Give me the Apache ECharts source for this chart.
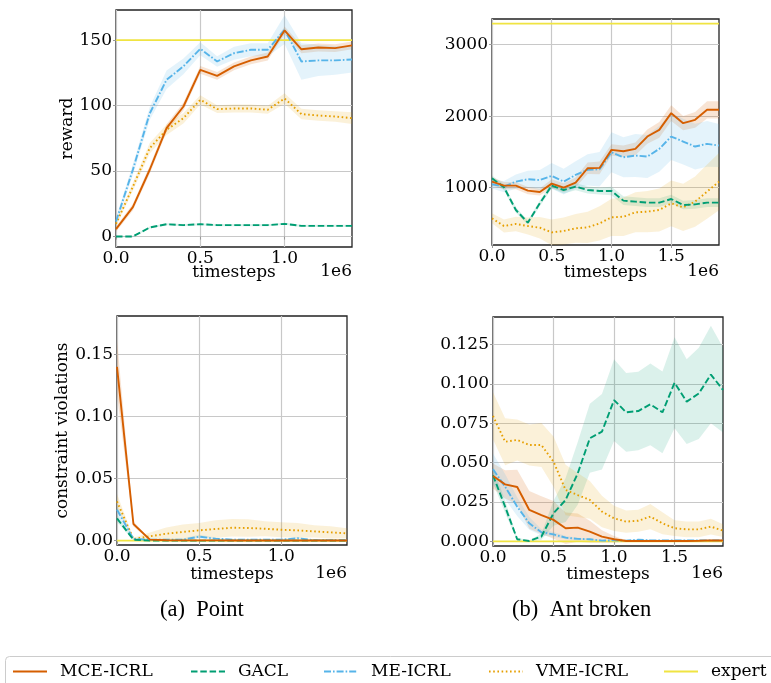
<!DOCTYPE html>
<html><head><meta charset="utf-8">
<script src="https://cdn.jsdelivr.net/npm/echarts@6/dist/echarts.min.js"></script>
<style>html,body{margin:0;padding:0;background:#fff}#c{width:771px;height:683px}</style>
</head><body><div id="c"></div>
<script>
// ---------- x positions (timesteps, 1e6) ----------
const xPoint = [0, 0.1, 0.2, 0.3, 0.4, 0.5, 0.6, 0.7, 0.8, 0.9, 1.0, 1.1, 1.2, 1.3, 1.4];
const xAnt = [0, 0.1, 0.2, 0.3, 0.4, 0.5, 0.6, 0.7, 0.8, 0.9, 1.0, 1.1, 1.2, 1.3, 1.4, 1.5, 1.6, 1.7, 1.8, 1.9];

// ---------- (a) Point : reward ----------
const pointRewardMCE = [5.6, 22.4, 51, 82.8, 99.3, 127.3, 122.7, 130, 134.5, 137.5, 157.4, 143, 144.4, 143.9, 146];
const pointRewardMCEErr = [2, 2.5, 3, 3, 3, 3, 3, 3, 3, 3, 3, 3, 3, 3, 3];
const pointRewardGACL = [0, 0, 6.9, 9.4, 8.7, 9.4, 8.7, 8.7, 8.7, 8.7, 9.7, 8.1, 8.1, 8.1, 8.1];
const pointRewardGACLErr = [0.5, 0.5, 0.8, 0.8, 0.8, 0.8, 0.8, 0.8, 0.8, 0.8, 0.8, 0.8, 0.8, 0.8, 0.8];
const pointRewardME = [11.5, 51, 94, 119.7, 130, 143.4, 133.7, 140, 142.6, 142.6, 158, 133.7, 134.5, 134.5, 135.2];
const pointRewardMEErr = [3, 4, 5, 7, 6, 5, 4, 5, 5, 5, 11, 14, 12, 11, 10];
const pointRewardVME = [9.7, 38, 67.5, 81.5, 90.4, 104.4, 97.3, 97.8, 97.8, 96.8, 105.4, 93.5, 92.4, 91.7, 90.4];
const pointRewardVMEErr = [2, 3, 4, 4, 4, 3.5, 3, 3, 3, 3, 4, 4, 4, 4, 4.5];
const pointRewardExpert = 150;

// ---------- (b) Ant broken : reward ----------
const antRewardMCE = [1084, 1028, 1028, 958, 939, 1056, 1000, 1070, 1271, 1276, 1528, 1509, 1542, 1715, 1808, 2042, 1902, 1949, 2089, 2089];
const antRewardMCEErr = [60, 50, 50, 50, 50, 60, 60, 70, 80, 90, 80, 80, 90, 100, 110, 110, 100, 110, 120, 120];
const antRewardGACL = [1131, 1005, 687, 509, 780, 1028, 967, 1014, 967, 953, 953, 818, 804, 790, 790, 841, 757, 766, 790, 790];
const antRewardGACLErr = [40, 40, 40, 30, 40, 40, 50, 50, 50, 50, 60, 60, 60, 60, 60, 60, 60, 60, 60, 60];
const antRewardME = [1047, 1014, 1084, 1117, 1107, 1164, 1084, 1178, 1248, 1257, 1495, 1425, 1449, 1435, 1542, 1715, 1645, 1575, 1612, 1589];
const antRewardMEErr = [60, 80, 100, 120, 140, 180, 180, 190, 220, 240, 280, 280, 300, 300, 320, 330, 320, 320, 320, 300];
const antRewardVME = [570, 463, 491, 463, 439, 374, 393, 430, 444, 500, 584, 593, 654, 664, 687, 780, 724, 804, 944, 1084];
const antRewardVMEErr = [70, 90, 100, 120, 150, 180, 190, 200, 220, 240, 260, 270, 280, 290, 300, 320, 330, 350, 380, 400];
const antRewardExpert = 3295;

// ---------- (a) Point : constraint violations ----------
const pointViolMCE = [0.140, 0.0134, 0.0008, 0.0003, 0.0002, 0.0002, 0.0002, 0.0001, 0.0001, 0.0001, 0.0001, 0.0001, 0.0001, 0.0001, 0.0001];
const pointViolMCEErr = [0.022, 0.002, 0.0005, 0.0002, 0.0002, 0.0002, 0.0002, 0.0002, 0.0002, 0.0002, 0.0002, 0.0002, 0.0002, 0.0002, 0.0002];
const pointViolGACL = [0.018, 0.0008, 0, 0, 0, 0, 0, 0, 0, 0, 0, 0, 0, 0, 0];
const pointViolGACLErr = [0.003, 0.0005, 0, 0, 0, 0, 0, 0, 0, 0, 0, 0, 0, 0, 0];
const pointViolME = [0.025, 0.0013, 0.0008, 0.0008, 0.0008, 0.0032, 0.0016, 0.0008, 0.0008, 0.0008, 0.0008, 0.0019, 0.0004, 0.0004, 0.0004];
const pointViolMEErr = [0.004, 0.001, 0.0008, 0.0008, 0.001, 0.0015, 0.001, 0.0008, 0.0008, 0.0008, 0.0008, 0.001, 0.0005, 0.0005, 0.0005];
const pointViolVME = [0.0316, 0.0013, 0.0035, 0.0056, 0.007, 0.0083, 0.0094, 0.0104, 0.0102, 0.0096, 0.0088, 0.0083, 0.0075, 0.0067, 0.0059];
const pointViolVMEErr = [0.006, 0.001, 0.003, 0.005, 0.006, 0.006, 0.007, 0.007, 0.007, 0.006, 0.006, 0.006, 0.005, 0.005, 0.004];
const pointViolExpert = 0;

// ---------- (b) Ant broken : constraint violations ----------
const antViolMCE = [0.0415, 0.0362, 0.0345, 0.0199, 0.0167, 0.0136, 0.0083, 0.0087, 0.0061, 0.003, 0.0013, 0.0002, 0.0002, 0.0002, 0.0002, 0.0002, 0.0002, 0.0003, 0.0006, 0.0005];
const antViolMCEErr = [0.008, 0.009, 0.011, 0.012, 0.012, 0.012, 0.01, 0.009, 0.007, 0.004, 0.002, 0.0005, 0.0005, 0.0005, 0.0005, 0.0005, 0.0005, 0.0005, 0.0005, 0.0005];
const antViolGACL = [0.042, 0.022, 0.0013, 0.0002, 0.003, 0.0178, 0.0263, 0.0432, 0.0655, 0.0697, 0.0898, 0.082, 0.0828, 0.0871, 0.082, 0.1008, 0.0888, 0.094, 0.106, 0.0962];
const antViolGACLErr = [0.005, 0.004, 0.001, 0.0005, 0.002, 0.008, 0.014, 0.02, 0.022, 0.024, 0.026, 0.025, 0.025, 0.026, 0.026, 0.029, 0.027, 0.029, 0.031, 0.027];
const antViolME = [0.0458, 0.0347, 0.022, 0.0114, 0.0057, 0.0044, 0.0023, 0.0015, 0.0013, 0.0004, 0.0006, 0.0004, 0.001, 0.0006, 0.0006, 0.0006, 0.0006, 0.0006, 0.0006, 0.0006];
const antViolMEErr = [0.01, 0.008, 0.006, 0.004, 0.002, 0.0015, 0.001, 0.0008, 0.0005, 0.0005, 0.0005, 0.0005, 0.0005, 0.0005, 0.0005, 0.0005, 0.0005, 0.0005, 0.0005, 0.0005];
const antViolVME = [0.0797, 0.0633, 0.0644, 0.0612, 0.0612, 0.0506, 0.0326, 0.0294, 0.0263, 0.0189, 0.0146, 0.0125, 0.0131, 0.0157, 0.0114, 0.0083, 0.0076, 0.0076, 0.0093, 0.0068];
const antViolVMEErr = [0.015, 0.015, 0.013, 0.013, 0.014, 0.016, 0.016, 0.014, 0.012, 0.01, 0.008, 0.007, 0.007, 0.008, 0.007, 0.005, 0.005, 0.005, 0.005, 0.004];
const antViolExpert = 0;

// ---------- tick labels ----------
const xTicksPoint = [0, 0.5, 1.0];
const xTicksAnt = [0, 0.5, 1.0, 1.5];
const yTicksPointReward = [0, 50, 100, 150];
const yTicksAntReward = [1000, 2000, 3000];
const yTicksPointViol = [0, 0.05, 0.10, 0.15];
const yTicksAntViol = [0, 0.025, 0.05, 0.075, 0.1, 0.125];

const methodNames = ['MCE-ICRL', 'GACL', 'ME-ICRL', 'VME-ICRL', 'expert'];
const captions = ['(a)  Point', '(b)  Ant broken'];

// ---------- styles ----------
const FONT = 'DejaVu Serif';
const STYLE = {
  'MCE-ICRL': { color: '#d55e00', fill: 'rgba(213,94,0,0.17)', type: 'solid' },
  'GACL':     { color: '#009e73', fill: 'rgba(0,158,115,0.14)', type: [6.5, 2.8] },
  'ME-ICRL':  { color: '#56b4e9', fill: 'rgba(86,180,233,0.16)', type: [7, 2, 1.6, 2] },
  'VME-ICRL': { color: '#e69f00', fill: 'rgba(230,159,0,0.15)', type: [1.6, 2.6] },
  'expert':   { color: '#f0e442', fill: 'rgba(240,228,66,0.2)', type: 'solid' }
};

const panels = [
  { xs: xPoint, xmax: 1.4, ymin: -8, ymax: 173, xt: xTicksPoint, yt: yTicksPointReward, yfmt: v => String(Math.round(v)),
    grid: { left: 116, top: 10, width: 236, height: 237 }, yname: 'reward', ygap: 40, xgap: 17, offGap: 16,
    data: { 'MCE-ICRL': [pointRewardMCE, pointRewardMCEErr], 'GACL': [pointRewardGACL, pointRewardGACLErr],
            'ME-ICRL': [pointRewardME, pointRewardMEErr], 'VME-ICRL': [pointRewardVME, pointRewardVMEErr] },
    expert: pointRewardExpert },
  { xs: xAnt, xmax: 1.9, ymin: 197, ymax: 3360, xt: xTicksAnt, yt: yTicksAntReward, yfmt: v => String(Math.round(v)),
    grid: { left: 492, top: 19, width: 227, height: 226 }, yname: '', ygap: 40, xgap: 19, offGap: 18,
    data: { 'MCE-ICRL': [antRewardMCE, antRewardMCEErr], 'GACL': [antRewardGACL, antRewardGACLErr],
            'ME-ICRL': [antRewardME, antRewardMEErr], 'VME-ICRL': [antRewardVME, antRewardVMEErr] },
    expert: antRewardExpert },
  { xs: xPoint, xmax: 1.4, ymin: -0.0035, ymax: 0.181, xt: xTicksPoint, yt: yTicksPointViol, yfmt: v => v.toFixed(2),
    grid: { left: 117, top: 316, width: 230, height: 229 }, yname: 'constraint violations', ygap: 46, xgap: 21, offGap: 20,
    data: { 'MCE-ICRL': [pointViolMCE, pointViolMCEErr], 'GACL': [pointViolGACL, pointViolGACLErr],
            'ME-ICRL': [pointViolME, pointViolMEErr], 'VME-ICRL': [pointViolVME, pointViolVMEErr] },
    expert: pointViolExpert },
  { xs: xAnt, xmax: 1.9, ymin: -0.003, ymax: 0.1426, xt: xTicksAnt, yt: yTicksAntViol, yfmt: v => v.toFixed(3),
    grid: { left: 493, top: 317, width: 230, height: 229 }, yname: '', ygap: 40, xgap: 20, offGap: 19,
    data: { 'MCE-ICRL': [antViolMCE, antViolMCEErr], 'GACL': [antViolGACL, antViolGACLErr],
            'ME-ICRL': [antViolME, antViolMEErr], 'VME-ICRL': [antViolVME, antViolVMEErr] },
    expert: antViolExpert }
];

const grids = [], xAxes = [], yAxes = [], series = [], graphics = [];
const txt = { color: '#000', fontFamily: FONT, fontSize: 17 };

function bandSeries(g, xs, m, e, fill) {
  const lo = xs.map((x, i) => m[i] - e[i]);
  const hi = xs.map((x, i) => m[i] + e[i]);
  return {
    type: 'custom', xAxisIndex: g, yAxisIndex: g, silent: true, clip: true,
    data: xs.map((x, i) => [x, lo[i], hi[i]]),
    encode: { x: 0, y: [1, 2] },
    renderItem: (params, api) => {
      if (params.dataIndex !== 0) return null;
      const pts = [];
      for (let i = 0; i < xs.length; i++) pts.push(api.coord([xs[i], lo[i]]));
      for (let i = xs.length - 1; i >= 0; i--) pts.push(api.coord([xs[i], hi[i]]));
      const cs = params.coordSys;
      return {
        type: 'group',
        clipPath: { type: 'rect', shape: { x: cs.x, y: cs.y, width: cs.width, height: cs.height } },
        children: [{ type: 'polygon', shape: { points: pts }, style: { fill, stroke: null } }]
      };
    }
  };
}

panels.forEach((p, g) => {
  grids.push(Object.assign({ show: true, borderColor: '#222', borderWidth: 1.3, backgroundColor: '#fff' }, p.grid));
  xAxes.push({
    type: 'value', gridIndex: g, min: 0, max: p.xmax,
    name: 'timesteps', nameLocation: 'middle', nameGap: p.xgap, nameTextStyle: txt, nameMoveOverlap: false,
    axisLine: { show: false },
    axisTick: { show: true, length: 3, lineStyle: { color: '#999' }, customValues: p.xt },
    axisLabel: { customValues: p.xt, formatter: v => v.toFixed(1), margin: 3, ...txt },
    splitLine: { show: true, lineStyle: { color: '#c8c8c8', width: 1.2 } }
  });
  yAxes.push({
    type: 'value', gridIndex: g, min: p.ymin, max: p.ymax,
    name: p.yname, nameLocation: 'middle', nameGap: p.ygap, nameTextStyle: txt, nameMoveOverlap: false,
    axisLine: { show: false },
    axisTick: { show: true, length: 3, lineStyle: { color: '#999' }, customValues: p.yt },
    axisLabel: { customValues: p.yt, formatter: p.yfmt, margin: 4, ...txt },
    splitLine: { show: true, lineStyle: { color: '#c8c8c8', width: 1.2 } }
  });
  // expert (drawn beneath)
  series.push({
    type: 'line', name: 'expert', xAxisIndex: g, yAxisIndex: g, symbol: 'none', silent: true,
    data: p.xs.map(x => [x, p.expert]),
    lineStyle: { color: STYLE.expert.color, width: 1.8 }, itemStyle: { color: STYLE.expert.color }
  });
  // bands
  ['MCE-ICRL', 'GACL', 'ME-ICRL', 'VME-ICRL'].forEach(name => {
    const [m, e] = p.data[name];
    series.push(bandSeries(g, p.xs, m, e, STYLE[name].fill));
  });
  // lines
  ['VME-ICRL', 'ME-ICRL', 'GACL', 'MCE-ICRL'].forEach(name => {
    const [m] = p.data[name];
    series.push({
      type: 'line', name, xAxisIndex: g, yAxisIndex: g, symbol: 'none', silent: true,
      data: p.xs.map((x, i) => [x, m[i]]),
      lineStyle: { color: STYLE[name].color, width: 1.9, type: STYLE[name].type },
      itemStyle: { color: STYLE[name].color }
    });
  });
  // 1e6 offset text
  graphics.push({
    type: 'text', right: 771 - (p.grid.left + p.grid.width), top: p.grid.top + p.grid.height + p.offGap,
    style: { text: '1e6', fill: '#000', font: '17px "DejaVu Serif"' }
  });
});

// captions
graphics.push({ type: 'text', left: 160, top: 599, style: { text: captions[0], fill: '#000', font: '22.5px "Liberation Serif"' } });
graphics.push({ type: 'text', left: 512, top: 599, style: { text: captions[1], fill: '#000', font: '22.5px "Liberation Serif"' } });
// legend frame
graphics.push({ type: 'rect', left: 5, top: 656, shape: { width: 800, height: 32, r: 4 },
  style: { fill: '#fff', stroke: '#cccccc', lineWidth: 1 }, z: -1 });

const legendLeft = [12, 190, 323, 488, 663];
const legends = methodNames.map((n, i) => ({
  data: [n], left: legendLeft[i], top: 663, itemWidth: 34, itemHeight: 14, selectedMode: false,
  padding: 0, itemStyle: { opacity: 0 },
  textStyle: { color: '#000', fontFamily: FONT, fontSize: 17, padding: [0, 0, 0, 8] }
}));

const chart = echarts.init(document.getElementById('c'), null, { renderer: 'canvas' });
chart.setOption({
  animation: false,
  backgroundColor: '#fff',
  grid: grids, xAxis: xAxes, yAxis: yAxes, series, legend: legends,
  graphic: graphics
});
</script></body></html>
